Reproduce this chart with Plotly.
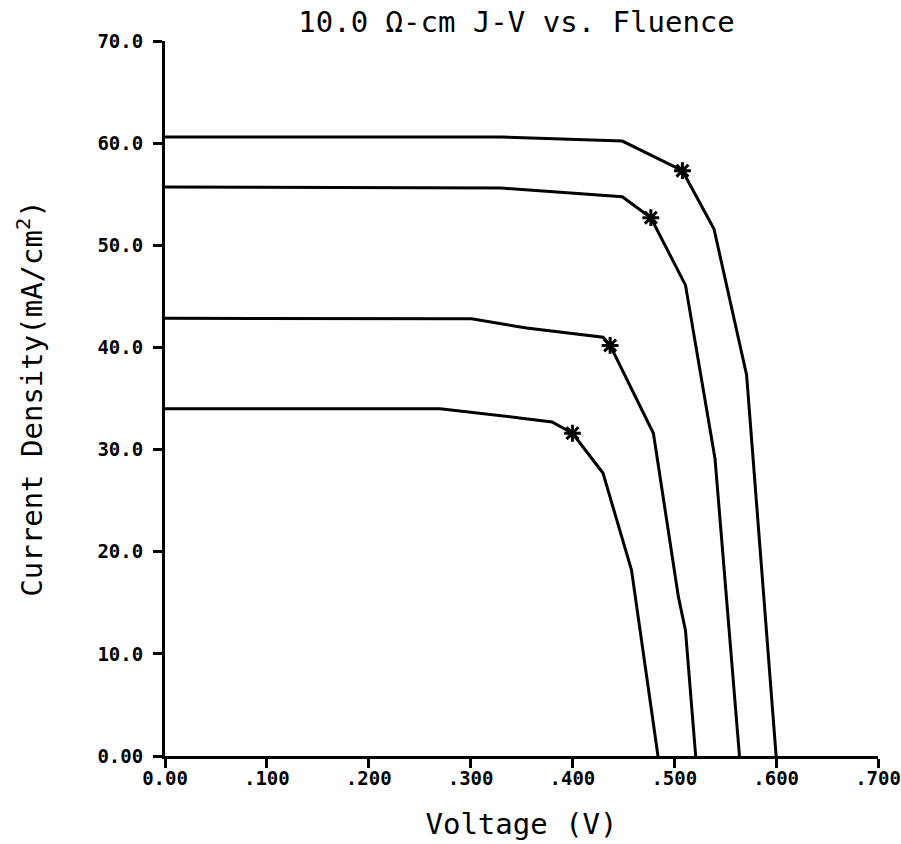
import plotly.graph_objects as go

# Voltage (V) / current density (mA/cm^2) for the four fluence curves
v1 = [0.0, 0.33, 0.449, 0.508, 0.539, 0.571, 0.600]
j1 = [60.6, 60.6, 60.2, 57.3, 51.6, 37.3, 0.0]

v2 = [0.0, 0.33, 0.449, 0.477, 0.511, 0.540, 0.564]
j2 = [55.7, 55.6, 54.75, 52.7, 46.1, 29.1, 0.0]

v3 = [0.0, 0.301, 0.355, 0.430, 0.437, 0.4795, 0.504, 0.511, 0.521]
j3 = [42.85, 42.8, 41.9, 41.0, 40.2, 31.6, 15.6, 12.3, 0.0]

v4 = [0.0, 0.27, 0.352, 0.380, 0.400, 0.430, 0.458, 0.484]
j4 = [34.0, 34.0, 33.05, 32.7, 31.6, 27.7, 18.2, 0.0]

# maximum power points (asterisks)
mpp_v = [0.508, 0.477, 0.437, 0.400]
mpp_j = [57.3, 52.7, 40.2, 31.6]

x_ticks = [0.0, 0.1, 0.2, 0.3, 0.4, 0.5, 0.6, 0.7]
x_labels = ["0.00", ".100", ".200", ".300", ".400", ".500", ".600", ".700"]
y_ticks = [0, 10, 20, 30, 40, 50, 60, 70]
y_labels = ["0.00", "10.0", "20.0", "30.0", "40.0", "50.0", "60.0", "70.0"]

FONT = "DejaVu Sans Mono"

fig = go.Figure()
for vx, jy in [(v1, j1), (v2, j2), (v3, j3), (v4, j4)]:
    fig.add_trace(go.Scatter(x=vx, y=jy, mode="lines",
                             line=dict(color="black", width=3),
                             showlegend=False, hoverinfo="skip"))

fig.add_trace(go.Scatter(x=mpp_v, y=mpp_j, mode="markers",
                         marker=dict(symbol="asterisk-open", size=14,
                                     color="black",
                                     line=dict(color="black", width=3)),
                         showlegend=False, hoverinfo="skip"))

fig.update_layout(
    width=901, height=844,
    margin=dict(l=165, r=23, t=41, b=88, autoexpand=False),
    paper_bgcolor="white", plot_bgcolor="white",
    title=dict(text="10.0 Ω-cm J-V vs. Fluence",
               font=dict(family=FONT, size=29, color="black"),
               xref="container", x=0.5733, xanchor="center",
               yref="container", y=0.986, yanchor="top"),
)

fig.update_xaxes(
    range=[0, 0.7], tickvals=x_ticks, ticktext=x_labels,
    showline=True, linecolor="black", linewidth=3,
    ticks="outside", ticklen=9, tickwidth=3, tickcolor="black",
    showgrid=False, zeroline=False, automargin=False,
    ticklabelstandoff=-6,
    tickfont=dict(family=FONT, size=19, color="black", weight="bold"),
    title=dict(text="Voltage (V)", standoff=26,
               font=dict(family=FONT, size=29, color="black")),
)
fig.update_yaxes(
    range=[0, 70], tickvals=y_ticks, ticktext=y_labels,
    showline=True, linecolor="black", linewidth=3,
    ticks="outside", ticklen=9, tickwidth=3, tickcolor="black",
    showgrid=False, zeroline=False, automargin=False,
    ticklabelstandoff=6,
    tickfont=dict(family=FONT, size=19, color="black", weight="bold"),
    title=dict(text="Current Density(mA/cm<sup>2</sup>)", standoff=47,
               font=dict(family=FONT, size=29, color="black")),
)

# remove the default page margin so the 901x844 figure fills the window
fig.write_html(
    "out.html",
    config={"displayModeBar": False},
    post_script="document.body.style.margin='0';"
                "document.documentElement.style.overflow='hidden';",
)
